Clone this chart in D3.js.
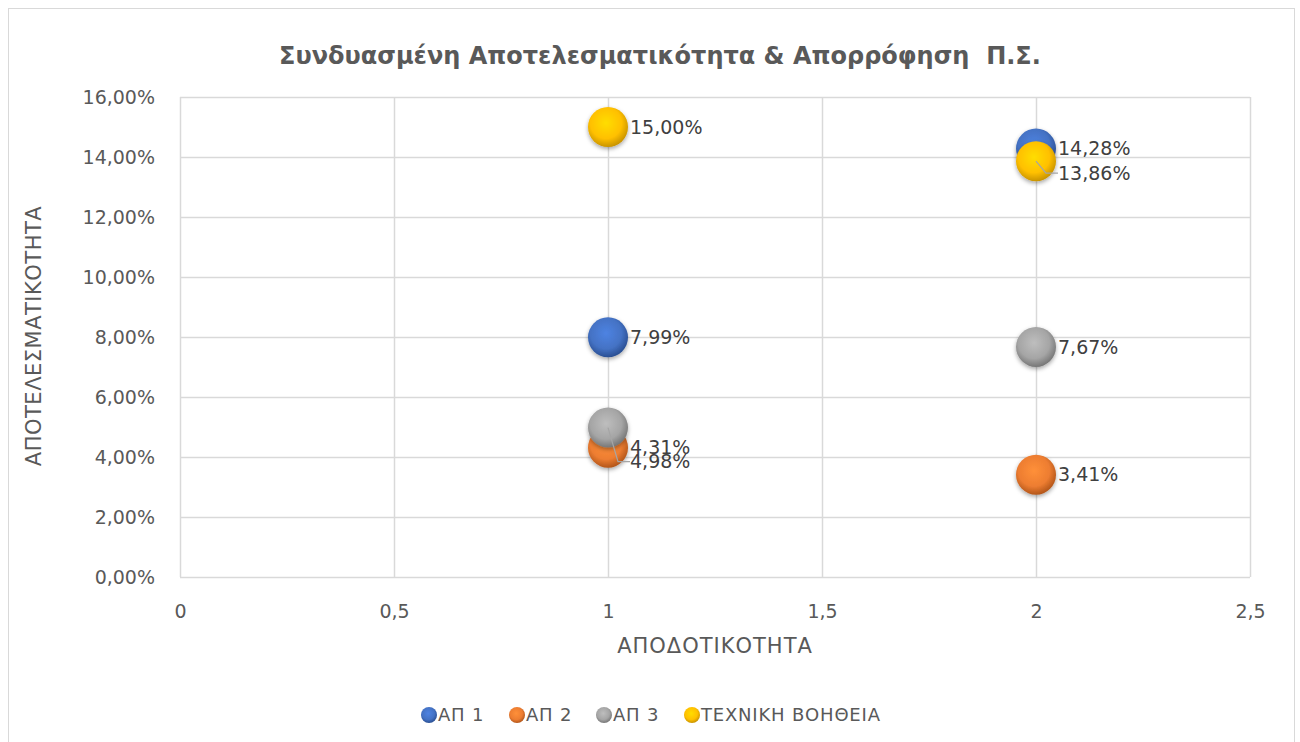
<!DOCTYPE html>
<html>
<head>
<meta charset="utf-8">
<script src="https://cdn.jsdelivr.net/npm/d3@7"></script>
<style>
  body { margin: 0; background: #fff; }
  svg { display: block; font-family: "DejaVu Sans", sans-serif; }
</style>
</head>
<body>
<svg id="chart" width="1300" height="742"></svg>
<script>
// chart data
const seriesNames = ['ΑΠ 1', 'ΑΠ 2', 'ΑΠ 3', 'ΤΕΧΝΙΚΗ ΒΟΗΘΕΙΑ'];
const xValues = [1, 2];
const ap1 = [0.0799, 0.1428];
const ap2 = [0.0431, 0.0341];
const ap3 = [0.0498, 0.0767];
const techBoh = [0.15, 0.1386];
const xTicks = [0, 0.5, 1, 1.5, 2, 2.5];
const yTicks = [0, 0.02, 0.04, 0.06, 0.08, 0.10, 0.12, 0.14, 0.16];

const colors = ['#4472C4', '#ED7D31', '#A5A5A5', '#FFC000'];
const darkColors = ['#2a4f93', '#b3561a', '#777777', '#c99400'];
const FONT = '"DejaVu Sans", sans-serif';

// label nudges where labels collide (series index -> [x index -> dy])
const labelShift = { 1: [0, 0], 2: [34, 0], 3: [0, 12] };

const locale = d3.formatLocale({ decimal: ',', thousands: '.', grouping: [3], currency: ['', '€'] });
const pct = locale.format('.2%');
const num = locale.format('~g');

const svg = d3.select('#chart');
const margin = { left: 180, top: 97, right: 1250, bottom: 577 };

svg.append('rect')
  .attr('x', 8.5).attr('y', 8.5)
  .attr('width', 1286).attr('height', 760)
  .attr('fill', '#fff').attr('stroke', '#d9d9d9');

const x = d3.scaleLinear().domain([0, 2.5]).range([margin.left, margin.right]);
const y = d3.scaleLinear().domain([0, 0.16]).range([margin.bottom, margin.top]);

// gradients for bubbles
const defs = svg.append('defs');
colors.forEach((c, i) => {
  const g = defs.append('radialGradient')
    .attr('id', 'grad' + i)
    .attr('cx', '45%').attr('cy', '40%').attr('r', '60%');
  g.append('stop').attr('offset', '0%').attr('stop-color', d3.color(c).brighter(0.4));
  g.append('stop').attr('offset', '65%').attr('stop-color', c);
  g.append('stop').attr('offset', '100%').attr('stop-color', darkColors[i]);
});
const shadow = defs.append('filter').attr('id', 'shadow')
  .attr('x', '-50%').attr('y', '-50%').attr('width', '200%').attr('height', '200%');
shadow.append('feDropShadow').attr('dx', 0).attr('dy', 2).attr('stdDeviation', 2)
  .attr('flood-color', '#000').attr('flood-opacity', 0.35);

// gridlines
const grid = svg.append('g');
grid.selectAll('.hg').data(yTicks).join('line')
  .attr('x1', margin.left).attr('x2', margin.right)
  .attr('y1', d => Math.round(y(d)) + 0.5).attr('y2', d => Math.round(y(d)) + 0.5)
  .attr('stroke', '#d9d9d9').attr('stroke-width', 1.5);
grid.selectAll('.vg').data(xTicks).join('line')
  .attr('y1', margin.top).attr('y2', margin.bottom)
  .attr('x1', d => Math.round(x(d)) + 0.5).attr('x2', d => Math.round(x(d)) + 0.5)
  .attr('stroke', '#d9d9d9').attr('stroke-width', 1.5);

// axes
const yAxis = svg.append('g')
  .attr('transform', `translate(${margin.left - 22},0)`)
  .call(d3.axisLeft(y).tickValues(yTicks).tickFormat(pct).tickSize(0));
yAxis.select('.domain').remove();
yAxis.selectAll('text').attr('font-size', 19).attr('fill', '#595959')
  .attr('font-family', FONT).attr('dx', 0);

const xAxis = svg.append('g')
  .attr('transform', `translate(0,${margin.bottom + 24})`)
  .call(d3.axisBottom(x).tickValues(xTicks).tickFormat(num).tickSize(0));
xAxis.select('.domain').remove();
xAxis.selectAll('text').attr('font-size', 19).attr('fill', '#595959')
  .attr('font-family', FONT).attr('dy', '0.71em');

// titles
svg.append('text')
  .attr('x', 660).attr('y', 64).attr('text-anchor', 'middle')
  .attr('font-size', 24).attr('font-weight', 'bold').attr('fill', '#595959')
  .style('white-space', 'pre')
  .text('Συνδυασμένη Αποτελεσματικότητα & Απορρόφηση  Π.Σ.');

svg.append('text')
  .attr('x', 715).attr('y', 653).attr('text-anchor', 'middle')
  .attr('font-size', 21).attr('letter-spacing', 1).attr('fill', '#595959')
  .text('ΑΠΟΔΟΤΙΚΟΤΗΤΑ');

svg.append('text')
  .attr('transform', `translate(41,336) rotate(-90)`).attr('text-anchor', 'middle')
  .attr('font-size', 21).attr('letter-spacing', 0.5).attr('fill', '#595959')
  .text('ΑΠΟΤΕΛΕΣΜΑΤΙΚΟΤΗΤΑ');

// bubbles
const allSeries = [ap1, ap2, ap3, techBoh];
const points = [];
allSeries.forEach((vals, s) => {
  vals.forEach((v, i) => points.push({ s, i, x: xValues[i], y: v }));
});

const bubbles = svg.append('g');
bubbles.selectAll('circle').data(points).join('circle')
  .attr('cx', d => x(d.x)).attr('cy', d => y(d.y)).attr('r', 20)
  .attr('fill', d => `url(#grad${d.s})`)
  .attr('filter', 'url(#shadow)');

// labels
const labels = svg.append('g');
points.forEach(d => {
  const dy = labelShift[d.s] ? labelShift[d.s][d.i] : 0;
  const cx = x(d.x), cy = y(d.y);
  if (dy) {
    labels.append('polyline')
      .attr('points', `${cx},${cy} ${cx + 10},${cy + dy} ${cx + 22},${cy + dy}`)
      .attr('fill', 'none').attr('stroke', '#a5a5a5').attr('stroke-width', 1.2);
  }
  labels.append('text')
    .attr('x', cx + 22).attr('y', cy + dy).attr('dy', '0.35em')
    .attr('font-size', 19).attr('fill', '#404040')
    .text(pct(d.y));
});

// legend
const legendItems = [
  { name: seriesNames[0], x: 421 },
  { name: seriesNames[1], x: 509 },
  { name: seriesNames[2], x: 596 },
  { name: seriesNames[3], x: 684 }
];
const legend = svg.append('g');
legendItems.forEach((it, i) => {
  legend.append('circle')
    .attr('cx', it.x + 8).attr('cy', 715).attr('r', 8)
    .attr('fill', `url(#grad${i})`);
  legend.append('text')
    .attr('x', it.x + 17).attr('y', 715).attr('dy', '0.35em')
    .attr('font-size', 18).attr('letter-spacing', 0.8).attr('fill', '#595959')
    .text(it.name);
});
</script>
</body>
</html>
